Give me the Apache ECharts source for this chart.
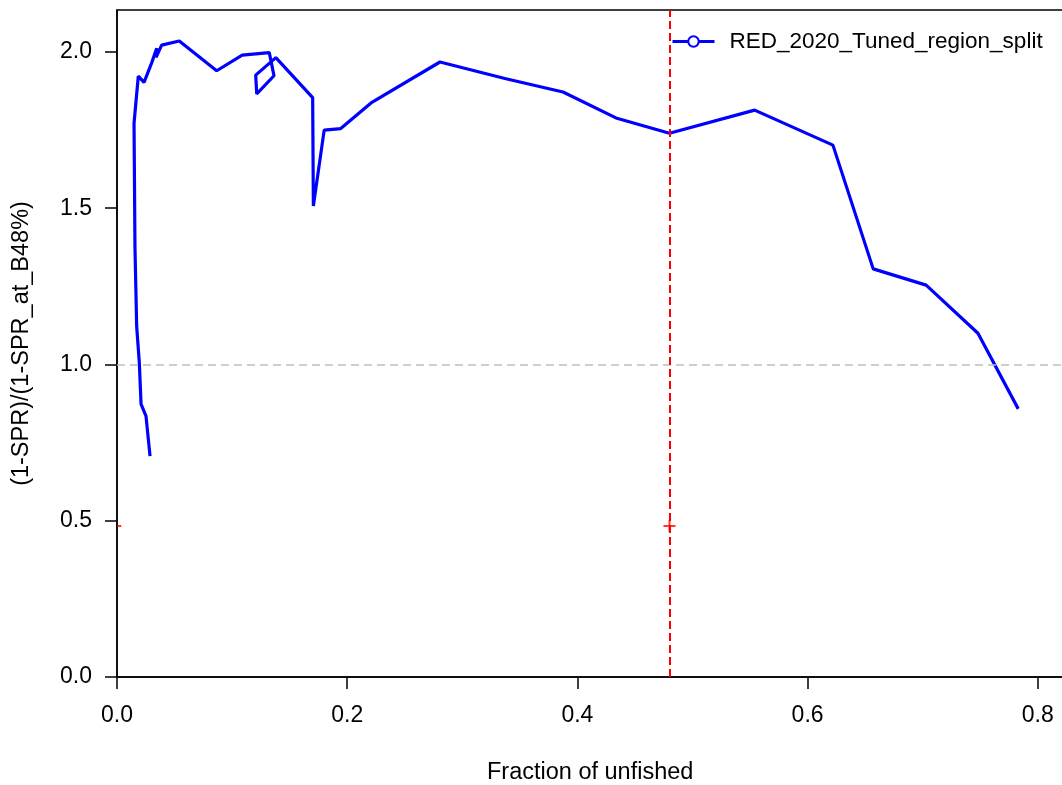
<!DOCTYPE html>
<html>
<head>
<meta charset="utf-8">
<script src="https://cdn.jsdelivr.net/npm/echarts@6/dist/echarts.min.js"></script>
<style>html,body{margin:0;padding:0;background:#fff;}#c{width:1062px;height:785px;}</style>
</head>
<body>
<div id="c"></div>
<script>
var seriesName = 'RED_2020_Tuned_region_split';
var fraction = [0.783, 0.748, 0.703, 0.657, 0.622, 0.554, 0.480, 0.4335, 0.3875, 0.337, 0.2806, 0.2207, 0.1944, 0.180, 0.1706, 0.170, 0.138, 0.1205, 0.1214, 0.1364, 0.1323, 0.1088, 0.0866, 0.0541, 0.0388, 0.0339, 0.0345, 0.0302, 0.0235, 0.0185, 0.0148, 0.0156, 0.0171, 0.0194, 0.0209, 0.0252, 0.0287];
var ratio =    [0.858, 1.100, 1.254, 1.306, 1.702, 1.814, 1.740, 1.789, 1.872, 1.915, 1.968, 1.837, 1.755, 1.750, 1.507, 1.854, 1.982, 1.926, 1.866, 1.924, 1.998, 1.990, 1.940, 2.035, 2.022, 1.983, 2.012, 1.966, 1.903, 1.923, 1.772, 1.377, 1.121, 1.005, 0.873, 0.835, 0.707];
var xTicks = [0, 0.2, 0.4, 0.6, 0.8];
var yTicks = [0, 0.5, 1.0, 1.5, 2.0];
var targetFraction = 0.48;
var refRatio = 1.0;
var targetPoints = [[0.48, 0.483]];
var edgePoint = [[0.002, 0.483]];

var xMax = 0.83, yMax = 2.1344;
var FONT = 'Liberation Sans, Arial, sans-serif';
var chart = echarts.init(document.getElementById('c'));
var lineData = fraction.map(function (v, i) { return [v, ratio[i]]; });
var plusPath = 'path://M5,0 L5,10 M0,5 L10,5';

chart.setOption({
  animation: false,
  backgroundColor: '#fff',
  grid: { left: 117, top: 10, height: 667, width: xMax * 1151, outerBoundsMode: 'none', show: true, borderColor: '#000', borderWidth: 1.5, containLabel: false },
  legend: {
    data: [seriesName], left: 666, top: 25, itemWidth: 42, itemHeight: 13, itemGap: 0,
    lineStyle: { width: 3 },
    itemStyle: { borderWidth: 2.5 },
    textStyle: { fontFamily: FONT, fontSize: 22.5, color: '#000', padding: [0, 0, 0, 10] }
  },
  xAxis: {
    type: 'value', min: 0, max: xMax,
    name: 'Fraction of unfished', nameLocation: 'middle', nameGap: 84,
    nameTextStyle: { fontFamily: FONT, fontSize: 23.5, color: '#000', padding: [0, 9, 0, 0] },
    axisLine: { show: true, lineStyle: { color: '#000', width: 1.5 } },
    axisTick: { show: true, length: 12, lineStyle: { color: '#000', width: 1.5 }, customValues: xTicks },
    axisLabel: { fontFamily: FONT, fontSize: 23, color: '#000', margin: 27, customValues: xTicks, formatter: function (v) { return v.toFixed(1); } },
    splitLine: { show: false }
  },
  yAxis: {
    type: 'value', min: 0, max: yMax,
    name: '(1-SPR)/(1-SPR_at_B48%)', nameLocation: 'middle', nameGap: 83,
    nameTextStyle: { fontFamily: FONT, fontSize: 23.5, color: '#000' },
    axisLine: { show: true, lineStyle: { color: '#000', width: 1.5 } },
    axisTick: { show: true, length: 12, lineStyle: { color: '#000', width: 1.5 }, customValues: yTicks },
    axisLabel: { fontFamily: FONT, fontSize: 23, color: '#000', margin: 25, customValues: yTicks, formatter: function (v) { return v.toFixed(1); } },
    splitLine: { show: false }
  },
  series: [
    {
      name: 'ref', type: 'line', data: [], silent: true,
      markLine: {
        silent: true, symbol: 'none', label: { show: false },
        data: [
          { yAxis: refRatio, lineStyle: { color: '#bebebe', width: 1.5, type: [8, 5] } },
          { xAxis: targetFraction, lineStyle: { color: '#ff0000', width: 2, type: [8, 4] } }
        ]
      }
    },
    {
      name: 'pts', type: 'scatter', data: targetPoints, symbol: plusPath, symbolSize: 12, silent: true,
      itemStyle: { color: 'none', borderColor: '#ff0000', borderWidth: 2 }
    },
    {
      name: 'edge', type: 'scatter', data: edgePoint, symbol: 'rect', symbolSize: [4, 2], silent: true,
      itemStyle: { color: '#ff0000' }
    },
    {
      name: seriesName, type: 'line', data: lineData, showSymbol: false, symbol: 'emptyCircle', symbolSize: 10,
      lineStyle: { color: '#0000ff', width: 3.2 }, itemStyle: { color: '#0000ff', borderColor: '#0000ff', borderWidth: 2.5 },
      clip: true
    }
  ]
});
</script>
</body>
</html>
